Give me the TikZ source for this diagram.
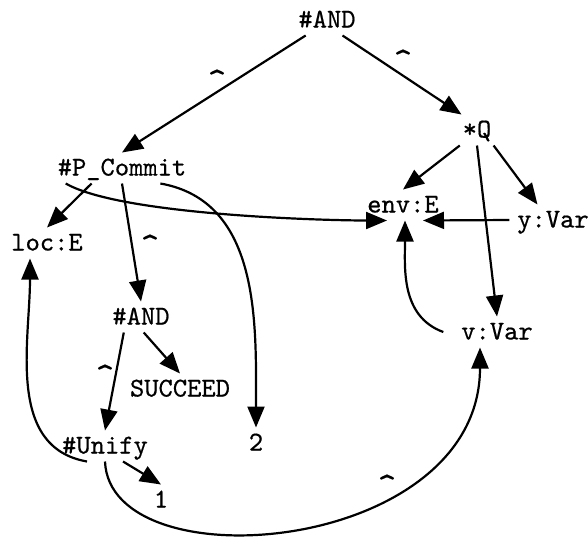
\documentclass[tikz,border=0pt]{standalone}
\usepackage{fontspec}
\setmonofont[FakeBold=0.6]{lmmono10-regular.otf}
\usepackage{tikz}
\usetikzlibrary{arrows.meta}
\tikzstyle{word} = [font=\ttfamily\fontsize{13.6}{16}\selectfont,inner sep=0pt,outer sep=4pt,text height=7.5pt,text depth=0pt]
\tikzstyle{hat} = [word,font=\ttfamily\fontsize{18}{18}\selectfont,outer sep=0pt]
\tikzstyle{link} = [-{Triangle[length=10.5pt,width=8.5pt]},line width=1.1pt]

\begin{document}
\begin{tikzpicture}[x=0.5pt,y=-0.5pt]
    \useasboundingbox (0,0) rectangle (588,536);

    \node[word](andtop) at (327,20) {\#AND};
    \node[word](q) at (477,130) {*Q};
    \node[word](pcommit) at (122,168) {\#P\_Commit};
    \node[word](env) at (403,205) {env:E};
    \node[word](yvar) at (553,220) {y:Var};
    \node[word](loc) at (47,243) {loc:E};
    \node[word](andsub) at (141,317) {\#AND};
    \node[word](vvar) at (497,332) {v:Var};
    \node[word](succeed) at (180,389) {SUCCEED};
    \node[word](unify) at (105,446) {\#Unify};
    \node[word](two) at (256,443) {2};
    \node[word](one) at (161,500) {1};

    \node[hat](hat1) at (217,84.5) {\textasciicircum};
    \node[hat](hat2) at (403,64.5) {\textasciicircum};
    \node[hat](hat3) at (150,249.5) {\textasciicircum};
    \node[hat](hat4) at (105,379.5) {\textasciicircum};
    \node[hat](hat5) at (387,489.5) {\textasciicircum};

    \draw[link] (andtop.-144) -- (pcommit.north);
    \draw[link] (andtop.-45) -- (q.135);
    \draw[link] (q.-138) -- (env.north);
    \draw[link] (q.-43) -- (yvar.135);
    \draw[link] (q.south) -- (vvar.north);
    \draw[link] (yvar.west) -- ([xshift=10pt]env.south);
    \draw[link] ([xshift=8pt]pcommit.south west) to[out=-30,in=180,looseness=0.5] ([xshift=-8pt]env.south);
    \draw[link] (pcommit.-153) -- (loc.north);
    \draw[link] (pcommit.south) -- (andsub.north);
    \draw[link] (pcommit.-22) to[out=-10,in=90] (two.north);
    \draw[link] (andsub.-80) -- (succeed.north);
    \draw[link] (andsub.-138) -- (unify.north);
    \draw[link] ([xshift=-9pt]unify.south) to[out=170,in=-90] ([xshift=-8.5pt]loc.south);
    \draw[link] ([xshift=9pt]unify.south) -- (one.north);
    \draw[link] (unify.south) .. controls +(5,123) and +(0,207) .. ([xshift=-8.5pt]vvar.south);
    \draw[link] ([xshift=-5pt]vvar.west) to[out=160,in=-90] ([xshift=1pt]env.south);

\end{tikzpicture}
\end{document}
